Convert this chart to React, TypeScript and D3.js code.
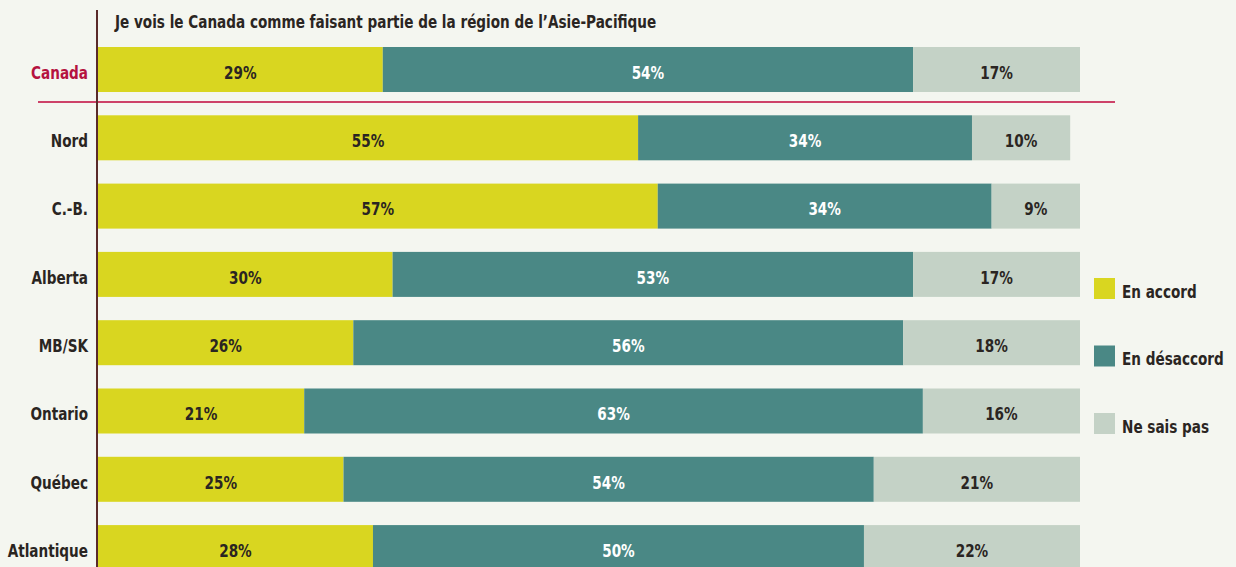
import React from "react";
import * as d3 from "d3";

const regions = ["Canada", "Nord", "C.-B.", "Alberta", "MB/SK", "Ontario", "Québec", "Atlantique"];
const accord = [29, 55, 57, 30, 26, 21, 25, 28];
const desaccord = [54, 34, 34, 53, 56, 63, 54, 50];
const nsp = [17, 10, 9, 17, 18, 16, 21, 22];
const seriesNames = ["En accord", "En désaccord", "Ne sais pas"];
const title = "Je vois le Canada comme faisant partie de la région de l\u2019Asie-Pacifique";

const colors = ["#d9d620", "#4a8885", "#c4d2c6"];
const textColors = ["#2a2522", "#ffffff", "#2a2522"];
const font = "'DejaVu Sans Condensed', 'Liberation Sans Narrow', sans-serif";
const FS = 18;
const SX = 0.84;

// condensed bold text: drawn at (x, y) and squeezed horizontally
const Label = ({ x, y, anchor = "start", fill = "#2a2522", children }: any) => (
  <g transform={`translate(${x}, ${y}) scale(${SX}, 1)`}>
    <text x={0} y={0} textAnchor={anchor} fontSize={FS} fontWeight="bold" fill={fill}>
      {children}
    </text>
  </g>
);

const App = () => {
  const width = 1236;
  const height = 567;

  const x = d3.scaleLinear().domain([0, 100]).range([98, 1080]);
  const y = d3.scaleBand().domain(regions).range([47, 570.1]).paddingInner(0.341).paddingOuter(0);
  const bh = y.bandwidth();
  const base = bh / 2 + 9.3;

  const rows = regions.map((r, i) => ({ region: r, values: [accord[i], desaccord[i], nsp[i]] }));

  return (
    <div style={{ position: "absolute", left: 0, top: 0, width, height, background: "#f4f6f0" }}>
      <svg width={width} height={height} style={{ display: "block", fontFamily: font }}>
        <rect width={width} height={height} fill="#f4f6f0" />

        {/* Title */}
        <Label x={115} y={28}>{title}</Label>

        {/* Bars */}
        {rows.map((row) => {
          let acc = 0;
          const y0 = y(row.region) as number;
          return (
            <g key={row.region}>
              {row.values.map((v, j) => {
                const x0 = x(acc);
                acc += v;
                const x1 = x(acc);
                return (
                  <g key={j}>
                    <rect x={x0} y={y0} width={x1 - x0} height={bh} fill={colors[j]} />
                    <Label x={(x0 + x1) / 2} y={y0 + base} anchor="middle" fill={textColors[j]}>
                      {v}%
                    </Label>
                  </g>
                );
              })}
              <Label
                x={88}
                y={y0 + base}
                anchor="end"
                fill={row.region === "Canada" ? "#b5123f" : "#2a2522"}
              >
                {row.region}
              </Label>
            </g>
          );
        })}

        {/* Divider under Canada */}
        <line x1={38} x2={1115} y1={102} y2={102} stroke="#c0063c" strokeWidth={1.5} />

        {/* Vertical axis line */}
        <line x1={97} x2={97} y1={10} y2={height} stroke="#5a2a2a" strokeWidth={2} />

        {/* Legend */}
        {seriesNames.map((name, i) => (
          <g key={name} transform={`translate(1094, ${278 + i * 67.5})`}>
            <rect width={21} height={21} fill={colors[i]} />
            <Label x={28} y={10.5 + 9.3}>{name}</Label>
          </g>
        ))}
      </svg>
    </div>
  );
};

export default App;
